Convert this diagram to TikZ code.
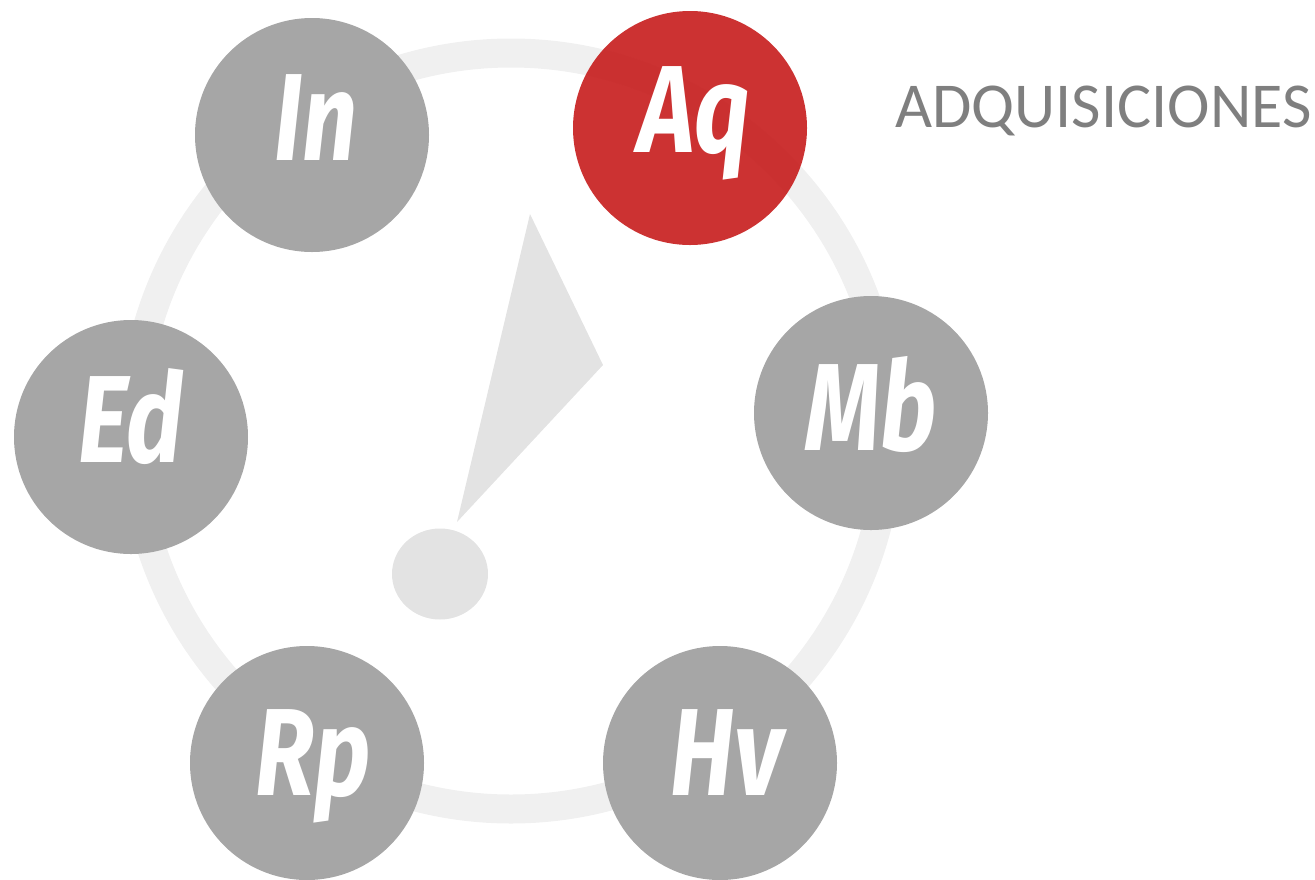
\documentclass[tikz,border=0pt]{standalone}
\usepackage{fontspec}
\usetikzlibrary{shapes.geometric}
\setmainfont{Carlito}
\newfontfamily\bubfont{Fira Sans}
\definecolor{ringgray}{HTML}{F0F0F0}
\definecolor{needlegray}{HTML}{E3E3E3}
\definecolor{bubgray}{HTML}{A6A6A6}
\definecolor{bubred}{HTML}{C61C1C}
\definecolor{titlegray}{HTML}{7F7F7F}
\newcommand{\bubtxt}[1]{\scalebox{0.78}[1]{#1}}
\tikzset{
  bub/.style={circle, fill=bubgray, draw=none, minimum size=234pt, inner sep=0pt},
  bubhot/.style={bub, fill=bubred, fill opacity=0.9},
  lett/.style={anchor=base, text=white, inner sep=0pt, font=\bubfont\bfseries\itshape\fontsize{124}{124}\selectfont},
  title/.style={anchor=base west, text=titlegray, inner sep=0pt, font=\fontsize{64}{64}\selectfont}
}
\begin{document}
\begin{tikzpicture}[x=1pt,y=-1pt]
\useasboundingbox (0,0) rectangle (1315,879);
% ring
\draw[ringgray, line width=29pt] (511,431) circle (378);
% needle
\fill[needlegray] (530,214) -- (603,365) -- (457,522) -- cycle;
\node[ellipse, fill=needlegray, minimum width=96pt, minimum height=91pt, inner sep=0pt] (dot) at (440,574) {};
% bubbles
\node[bub] (in) at (312,135) {};
\node[bubhot] (aq) at (690,128) {};
\node[bub] (mb) at (871,413) {};
\node[bub] (ed) at (131,437) {};
\node[bub] (rp) at (307,763) {};
\node[bub] (hv) at (720,763) {};
% letters
\node[lett] (tin) at (316,160) {\bubtxt{In}};
\node[lett] (taq) at (694,152) {\bubtxt{Aq}};
\node[lett] (tmb) at (871,450) {\bubtxt{Mb}};
\node[lett] (ted) at (131,462) {\bubtxt{Ed}};
\node[lett] (trp) at (313,795) {\bubtxt{Rp}};
\node[lett] (thv) at (727,795) {\bubtxt{Hv}};
% title
\node[title] (ttl) at (895,127) {ADQUISICIONES};
\end{tikzpicture}
\end{document}
